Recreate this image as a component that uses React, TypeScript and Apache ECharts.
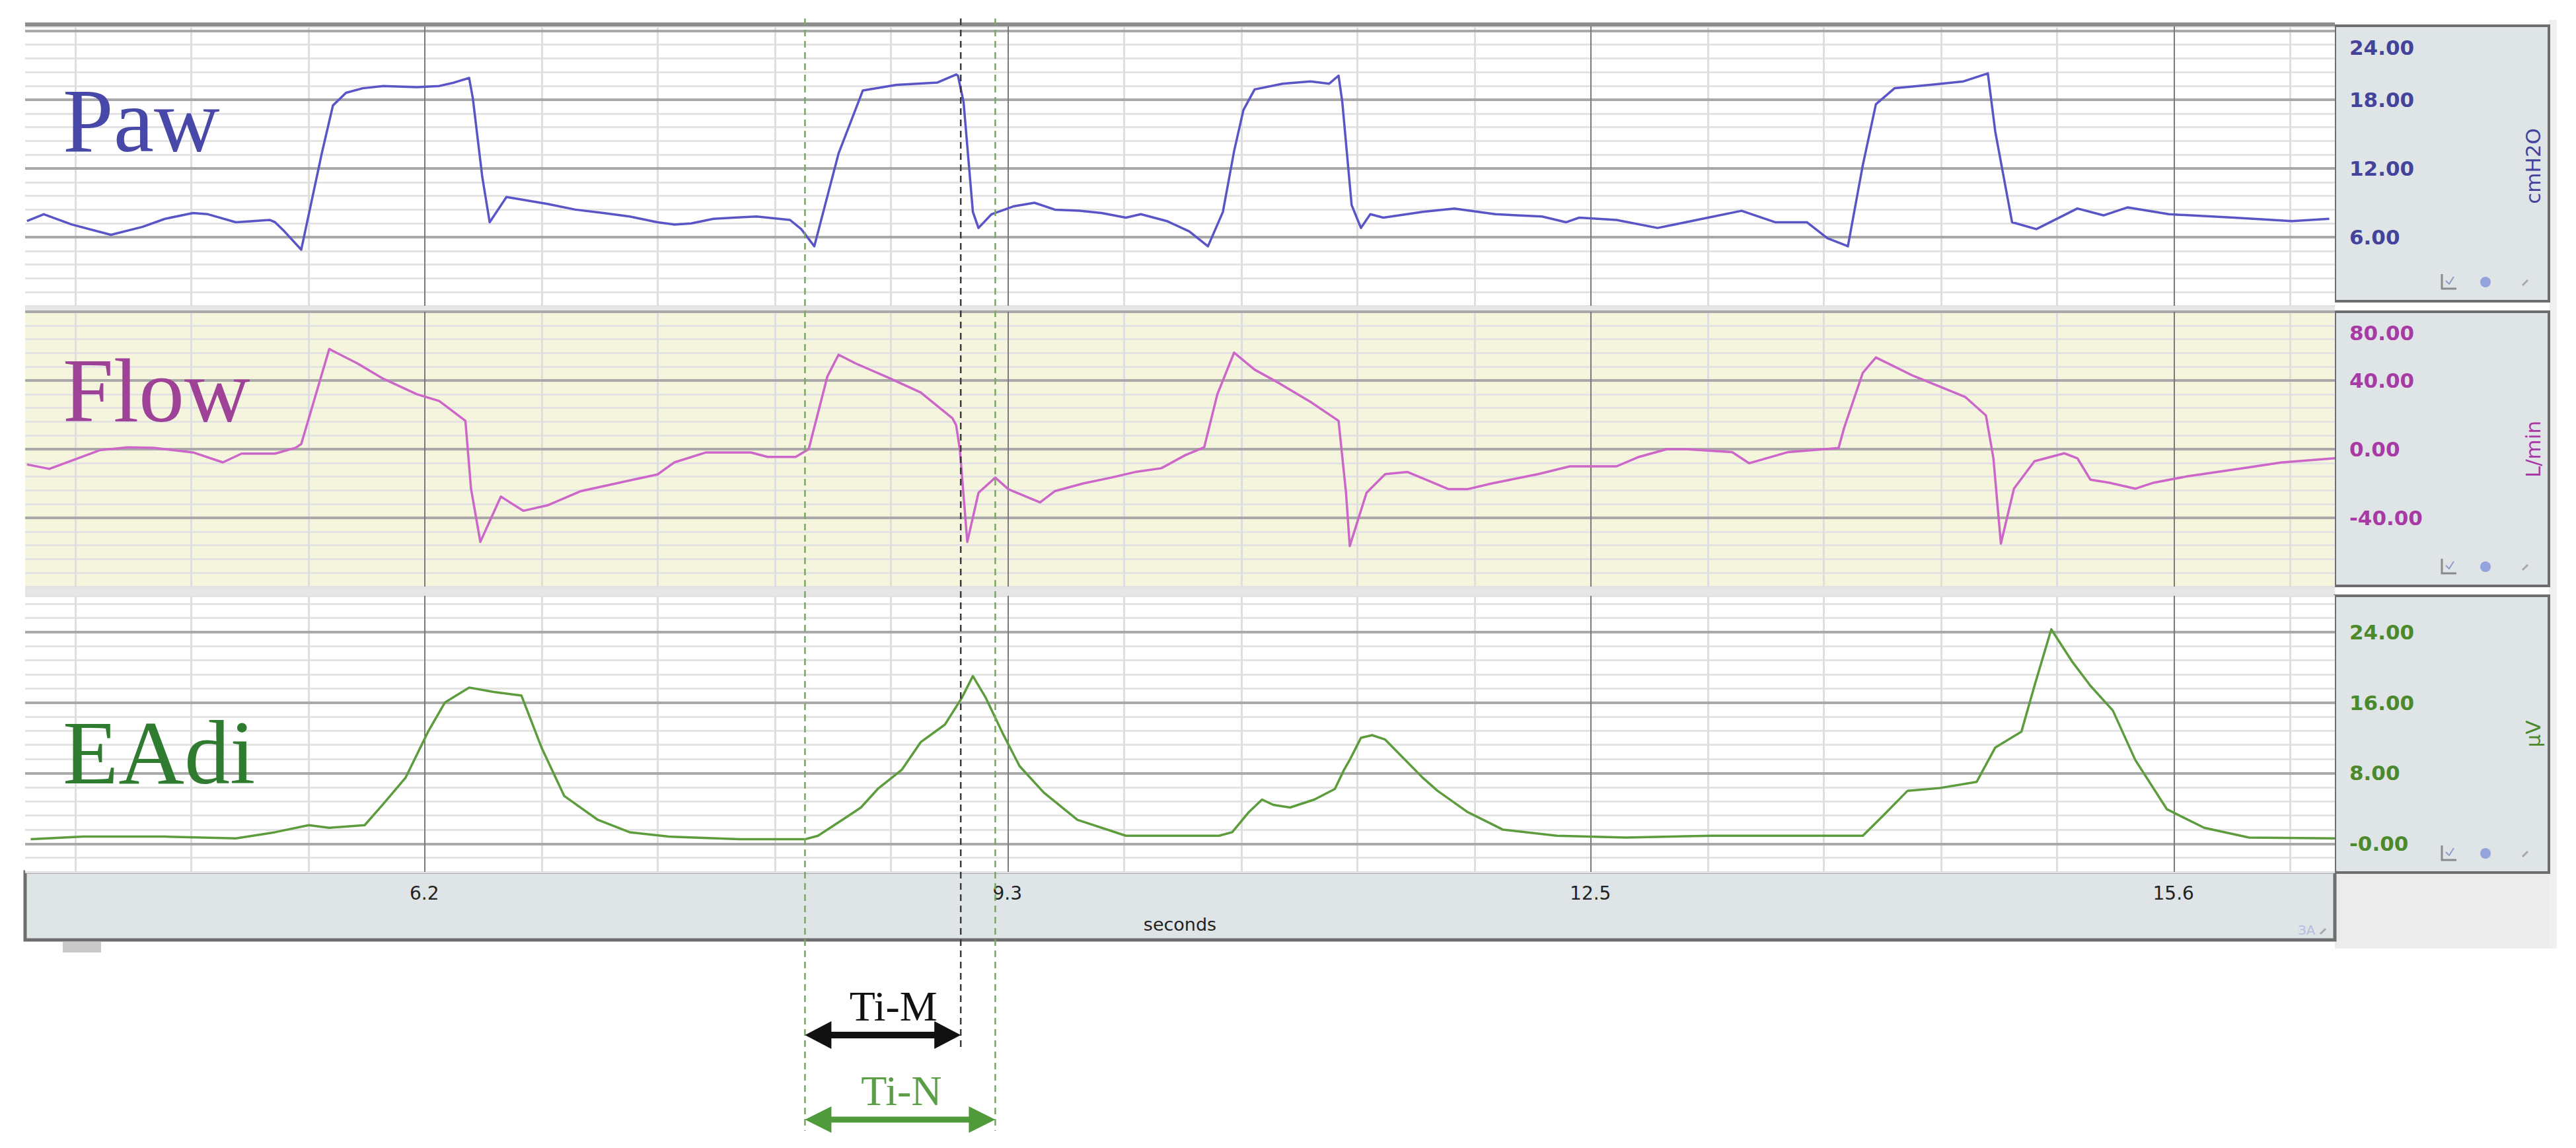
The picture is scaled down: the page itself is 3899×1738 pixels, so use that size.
import React, { useEffect, useRef } from 'react';
import * as echarts from 'echarts';

// ---------- data (seconds, value) ----------
const PAW_T = [4.12, 4.21, 4.36, 4.57, 4.74, 4.86, 5.01, 5.09, 5.24, 5.42, 5.45, 5.50, 5.59, 5.70, 5.76, 5.83, 5.92, 6.03, 6.21, 6.33, 6.41, 6.49, 6.51, 6.56, 6.60, 6.69, 6.80, 6.91, 7.06, 7.21, 7.35, 7.50, 7.59, 7.68, 7.80, 7.91, 8.03, 8.21, 8.27, 8.34, 8.47, 8.60, 8.78, 9.00, 9.10, 9.11, 9.14, 9.19, 9.22, 9.29, 9.41, 9.52, 9.63, 9.76, 9.88, 10.01, 10.09, 10.23, 10.35, 10.45, 10.53, 10.59, 10.64, 10.70, 10.85, 11.00, 11.10, 11.15, 11.17, 11.22, 11.27, 11.32, 11.39, 11.60, 11.77, 11.99, 12.24, 12.37, 12.44, 12.64, 12.86, 13.01, 13.13, 13.31, 13.49, 13.66, 13.77, 13.88, 13.96, 14.03, 14.13, 14.32, 14.50, 14.63, 14.67, 14.76, 14.89, 15.11, 15.25, 15.38, 15.60, 15.95, 16.26, 16.46];
const PAW_V = [7.4, 8.0, 7.1, 6.2, 6.9, 7.6, 8.1, 8.0, 7.3, 7.5, 7.3, 6.5, 4.9, 13.3, 17.5, 18.6, 19.0, 19.2, 19.1, 19.2, 19.5, 19.9, 18.1, 11.3, 7.3, 9.5, 9.2, 8.9, 8.4, 8.1, 7.8, 7.3, 7.1, 7.2, 7.6, 7.7, 7.8, 7.5, 6.7, 5.2, 13.3, 18.8, 19.3, 19.5, 20.2, 20.1, 17.8, 8.2, 6.8, 8.0, 8.7, 9.0, 8.4, 8.3, 8.1, 7.7, 8.0, 7.4, 6.5, 5.2, 8.2, 13.5, 17.1, 18.9, 19.4, 19.6, 19.4, 20.1, 17.8, 8.8, 6.8, 8.0, 7.7, 8.2, 8.5, 8.0, 7.8, 7.3, 7.7, 7.5, 6.8, 7.3, 7.7, 8.3, 7.3, 7.3, 5.9, 5.2, 12.3, 17.6, 19.0, 19.3, 19.6, 20.3, 15.2, 7.3, 6.7, 8.5, 7.9, 8.6, 8.0, 7.7, 7.4, 7.6];

const FLOW_T = [4.12, 4.24, 4.51, 4.66, 4.80, 5.01, 5.17, 5.27, 5.45, 5.56, 5.59, 5.74, 5.89, 6.03, 6.21, 6.33, 6.47, 6.50, 6.55, 6.66, 6.78, 6.91, 7.09, 7.36, 7.50, 7.59, 7.76, 8.00, 8.09, 8.24, 8.31, 8.41, 8.47, 8.56, 8.73, 8.91, 9.08, 9.10, 9.12, 9.16, 9.22, 9.31, 9.38, 9.55, 9.63, 9.78, 9.93, 10.06, 10.20, 10.33, 10.43, 10.50, 10.59, 10.70, 10.83, 11.00, 11.12, 11.15, 11.19, 11.21, 11.30, 11.40, 11.52, 11.62, 11.74, 11.84, 11.97, 12.22, 12.39, 12.64, 12.76, 12.91, 13.01, 13.26, 13.35, 13.56, 13.83, 13.86, 13.96, 14.03, 14.23, 14.51, 14.62, 14.66, 14.70, 14.77, 14.88, 15.04, 15.11, 15.18, 15.28, 15.42, 15.52, 15.69, 16.03, 16.20, 16.49];
const FLOW_V = [-8.9, -11.5, -0.6, 1.1, 0.8, -1.9, -7.7, -2.6, -2.6, 0.8, 3.0, 58.3, 50.0, 41.0, 32.0, 28.0, 16.5, -23.0, -54.0, -27.6, -35.9, -32.7, -24.4, -18.0, -14.7, -7.7, -1.9, -1.9, -4.5, -4.5, 0.0, 42.3, 55.0, 50.0, 42.0, 33.0, 18.0, 14.0, 0.0, -54.0, -25.4, -16.6, -23.3, -31.0, -24.4, -20.0, -16.6, -13.3, -11.1, -3.4, 1.1, 31.9, 56.2, 46.3, 38.5, 27.5, 18.7, 16.5, -25.4, -56.4, -25.4, -14.5, -13.3, -17.8, -23.3, -23.3, -20.0, -14.5, -10.0, -10.0, -4.5, 0.0, 0.0, -1.7, -8.2, -1.7, 0.7, 12.5, 44.5, 53.4, 42.7, 30.3, 19.6, -5.4, -55.0, -23.0, -7.0, -2.4, -5.3, -17.8, -19.5, -23.0, -19.5, -16.0, -10.6, -7.8, -5.3];

const EADI_T = [4.14, 4.42, 4.86, 5.24, 5.45, 5.63, 5.74, 5.93, 6.03, 6.15, 6.27, 6.36, 6.49, 6.62, 6.77, 6.88, 7.00, 7.18, 7.35, 7.56, 7.94, 8.29, 8.36, 8.49, 8.59, 8.68, 8.81, 8.91, 9.04, 9.13, 9.19, 9.26, 9.35, 9.44, 9.57, 9.75, 10.01, 10.51, 10.58, 10.67, 10.74, 10.80, 10.89, 11.02, 11.13, 11.18, 11.21, 11.27, 11.33, 11.40, 11.46, 11.53, 11.60, 11.68, 11.84, 12.03, 12.32, 12.69, 13.15, 13.96, 14.07, 14.20, 14.37, 14.57, 14.67, 14.81, 14.88, 14.97, 15.08, 15.18, 15.30, 15.42, 15.59, 15.79, 16.03, 16.49];
const EADI_V = [0.5, 0.8, 0.8, 0.6, 1.3, 2.1, 1.8, 2.1, 4.5, 7.5, 12.7, 16.0, 17.7, 17.2, 16.8, 10.8, 5.4, 2.7, 1.3, 0.8, 0.5, 0.5, 0.9, 2.7, 4.1, 6.2, 8.4, 11.5, 13.5, 16.5, 19.0, 16.5, 12.5, 8.8, 5.8, 2.7, 0.9, 0.9, 1.3, 3.6, 5.0, 4.4, 4.1, 5.0, 6.2, 8.4, 9.5, 12.0, 12.3, 11.8, 10.5, 9.0, 7.5, 6.0, 3.6, 1.6, 0.9, 0.7, 0.9, 0.9, 3.2, 6.0, 6.3, 7.0, 10.9, 12.7, 17.9, 24.3, 20.7, 17.9, 15.1, 9.5, 3.9, 1.8, 0.7, 0.6];

// ---------- axes / ticks ----------
const X_MIN = 4.11;
const X_MAX = 16.49;
const X_LABEL_TICKS = [6.25, 9.375, 12.5, 15.625];
const X_MINOR_STEP = 0.625;

const PAW_LABELS = [6, 12, 18, 24];
const FLOW_LABELS = [-40, 0, 40, 80];
const EADI_LABELS = [0, 8, 16, 24];

// Ti markers (seconds)
const TI_START = 8.29;
const TI_M_END = 9.125;
const TI_N_END = 9.31;

// ---------- layout ----------
const W = 3899;
const H = 1738;
const PLOT_L = 38;
const PLOT_R = 3534;
const BOX_R = 3858;

const PANELS = [
  { name: 'cmH2O', title: 'Paw', top: 40, bottom: 463, min: 0, max: 24.4, minor: 1.2, labels: PAW_LABELS, shifted: 24 as number | null, shift: 50,
    color: '#5a55c6', labelColor: '#43439c', titleColor: '#4848a8', bg: '#ffffff', boxTop: 39, boxBottom: 456, titleBase: 228,
    t: PAW_T, v: PAW_V },
  { name: 'L/min', title: 'Flow', top: 472, bottom: 888, min: -80, max: 80, minor: 8, labels: FLOW_LABELS, shifted: 80 as number | null, shift: 64,
    color: '#cc66c8', labelColor: '#a83aa6', titleColor: '#9e4298', bg: '#f4f5dc', boxTop: 472, boxBottom: 887, titleBase: 637,
    t: FLOW_T, v: FLOW_V },
  { name: 'µV', title: 'EAdi', top: 902, bottom: 1320, min: -3.2, max: 28.1, minor: 1.6, labels: EADI_LABELS, shifted: null as number | null, shift: 0,
    color: '#5c9c3c', labelColor: '#4b8a2c', titleColor: '#2f7b2f', bg: '#ffffff', boxTop: 902, boxBottom: 1321, titleBase: 1185,
    t: EADI_T, v: EADI_V },
];

const isOn = (v: number, list: number[]) => list.some((l) => Math.abs(l - v) < 1e-6);

function buildOption() {
  const verticalMinor: number[] = [];
  for (let k = Math.ceil(X_MIN / X_MINOR_STEP); k * X_MINOR_STEP <= X_MAX; k++) {
    const t = k * X_MINOR_STEP;
    if (!isOn(t, X_LABEL_TICKS)) verticalMinor.push(t);
  }

  const grids: any[] = [];
  const xAxes: any[] = [];
  const yAxes: any[] = [];
  const series: any[] = [];

  PANELS.forEach((p, i) => {
    grids.push({
      left: PLOT_L,
      width: PLOT_R - PLOT_L,
      top: p.top,
      height: p.bottom - p.top,
      show: true,
      backgroundColor: p.bg,
      borderWidth: 0,
      containLabel: false,
      outerBoundsMode: 'none',
    });
    const isLast = i === PANELS.length - 1;
    xAxes.push({
      type: 'value',
      gridIndex: i,
      min: X_MIN,
      max: X_MAX,
      axisLine: { show: false },
      axisTick: { show: false },
      splitLine: { show: false },
      axisLabel: isLast
        ? {
            show: true,
            customValues: X_LABEL_TICKS,
            formatter: (v: number) => (Math.floor(v * 10 + 1e-9) / 10).toFixed(1),
            color: '#222222',
            fontSize: 28,
            fontFamily: 'DejaVu Sans',
            margin: 18,
          }
        : { show: false },
      name: isLast ? 'seconds' : '',
      nameLocation: 'middle',
      nameGap: 66,
      nameTextStyle: { color: '#222222', fontSize: 27, fontFamily: 'DejaVu Sans' },
    });
    const labelStyle = { color: p.labelColor, fontSize: 31, fontWeight: 'bold', fontFamily: 'DejaVu Sans' };
    yAxes.push({
      type: 'value',
      gridIndex: i,
      position: 'right',
      min: p.min,
      max: p.max,
      interval: p.minor,
      axisLine: { show: false },
      axisTick: { show: false },
      splitLine: { show: true, lineStyle: { color: '#e3e3e3', width: 3 } },
      axisLabel: {
        show: true,
        margin: 22,
        ...labelStyle,
        showMinLabel: false,
        showMaxLabel: p.shifted === p.max,
        formatter: (v: number) => {
          if (!isOn(v, p.labels)) return '';
          const s = Math.abs(v) < 1e-9 && i === 2 ? '-0.00' : v.toFixed(2);
          if (p.shifted !== null && Math.abs(v - p.shifted) < 1e-6) return `{top|${s}}`;
          return s;
        },
        rich: { top: { ...labelStyle, padding: [p.shift, 0, 0, 0] } },
      },
      name: p.name,
      nameLocation: 'middle',
      nameGap: 284,
      nameRotate: 90,
      nameTextStyle: { color: p.labelColor, fontSize: 31, fontFamily: 'DejaVu Sans' },
    });
    const gridLines: any[] = [
      ...verticalMinor.map((t) => ({ xAxis: t, lineStyle: { color: '#dedede', width: 3, type: 'solid' } })),
      ...p.labels.map((v) => ({ yAxis: v, lineStyle: { color: '#a9a9a9', width: 4, type: 'solid' } })),
      ...X_LABEL_TICKS.map((t) => ({ xAxis: t, lineStyle: { color: '#7a7a7a', width: 2, type: 'solid' } })),
    ];
    series.push({
      type: 'line',
      xAxisIndex: i,
      yAxisIndex: i,
      data: p.t.map((t, k) => [t, p.v[k]]),
      showSymbol: false,
      symbol: 'none',
      silent: true,
      z: 10,
      lineStyle: { color: p.color, width: 3.5, join: 'round' },
      markLine: {
        silent: true,
        z: 1,
        symbol: ['none', 'none'],
        label: { show: false },
        emphasis: { disabled: true },
        animation: false,
        data: gridLines,
      },
    });
  });

  return {
    animation: false,
    backgroundColor: '#ffffff',
    grid: grids,
    xAxis: xAxes,
    yAxis: yAxes,
    series,
  };
}

function arrow(x1: number, x2: number, y: number, head: number, half: number, shaft: number, color: string) {
  return [
    { type: 'rect', z: 30, shape: { x: x1 + head - 2, y: y - shaft, width: x2 - x1 - 2 * head + 4, height: shaft * 2 }, style: { fill: color } },
    { type: 'polygon', z: 30, shape: { points: [[x1, y], [x1 + head, y - half], [x1 + head, y + half]] }, style: { fill: color } },
    { type: 'polygon', z: 30, shape: { points: [[x2, y], [x2 - head, y - half], [x2 - head, y + half]] }, style: { fill: color } },
  ];
}

function buildGraphic(px: (t: number) => number) {
  const els: any[] = [];
  // panel area backing (separator bands)
  els.push({ type: 'rect', z: -10, shape: { x: PLOT_L, y: 34, width: PLOT_R - PLOT_L, height: 1290 }, style: { fill: '#e6e6e6' } });
  // right gray window area
  els.push({ type: 'rect', z: -10, shape: { x: PLOT_R, y: 1320, width: BOX_R - PLOT_R + 12, height: 116 }, style: { fill: '#ececec' } });
  els.push({ type: 'rect', z: -10, shape: { x: BOX_R, y: 30, width: 12, height: 1406 }, style: { fill: '#f0f0f0' } });
  // top border
  els.push({ type: 'line', z: 5, shape: { x1: PLOT_L, y1: 37, x2: PLOT_R, y2: 37 }, style: { stroke: '#8c8c8c', lineWidth: 6 } });

  // right axis boxes + icons + panel titles
  PANELS.forEach((p) => {
    els.push({
      type: 'rect', z: -5,
      shape: { x: PLOT_R, y: p.boxTop, width: BOX_R - PLOT_R, height: p.boxBottom - p.boxTop },
      style: { fill: '#dfe4e7', stroke: '#6e6e6e', lineWidth: 4 },
    });
    const yc = p.boxBottom - 29;
    els.push({ type: 'polyline', z: 6, shape: { points: [[3696, yc - 12], [3696, yc + 10], [3718, yc + 10]] }, style: { stroke: '#8a8a8a', lineWidth: 3, fill: null } });
    els.push({ type: 'polyline', z: 6, shape: { points: [[3702, yc - 2], [3707, yc + 3], [3714, yc - 8]] }, style: { stroke: '#8e9cc8', lineWidth: 2, fill: null } });
    els.push({ type: 'circle', z: 6, shape: { cx: 3762, cy: yc, r: 8 }, style: { fill: '#95a3dc' } });
    els.push({ type: 'line', z: 6, shape: { x1: 3818, y1: yc + 5, x2: 3826, y2: yc - 3 }, style: { stroke: '#a6a6a6', lineWidth: 3 } });

    els.push({
      type: 'text', z: 20, x: 95, y: p.titleBase - 46,
      style: { text: p.title, font: "138px 'Liberation Serif'", fill: p.titleColor, textAlign: 'left', align: 'left', textVerticalAlign: 'middle', verticalAlign: 'middle' },
    });
  });

  // x-axis bar
  els.push({ type: 'rect', z: -5, shape: { x: PLOT_L, y: 1320, width: PLOT_R - PLOT_L, height: 103 }, style: { fill: '#dfe4e7', stroke: '#6e6e6e', lineWidth: 5 } });
  els.push({ type: 'rect', z: -4, shape: { x: 95, y: 1426, width: 58, height: 16 }, style: { fill: '#c9c9c9' } });
  els.push({ type: 'text', z: 6, x: 3478, y: 1408, style: { text: 'ЗA', font: "20px 'DejaVu Sans'", fill: '#b6bee0', textAlign: 'left', align: 'left', textVerticalAlign: 'middle', verticalAlign: 'middle' } });
  els.push({ type: 'line', z: 6, shape: { x1: 3512, y1: 1414, x2: 3520, y2: 1406 }, style: { stroke: '#a6a6a6', lineWidth: 3 } });

  // Ti markers
  const xs = px(TI_START);
  const xm = px(TI_M_END);
  const xn = px(TI_N_END);
  els.push({ type: 'line', z: 25, shape: { x1: xs, y1: 28, x2: xs, y2: 1712 }, style: { stroke: '#72ad58', lineWidth: 2.5, lineDash: [10, 7] } });
  els.push({ type: 'line', z: 25, shape: { x1: xm, y1: 28, x2: xm, y2: 1585 }, style: { stroke: '#3a3a3a', lineWidth: 2.5, lineDash: [10, 7] } });
  els.push({ type: 'line', z: 25, shape: { x1: xn, y1: 28, x2: xn, y2: 1712 }, style: { stroke: '#72ad58', lineWidth: 2.5, lineDash: [10, 7] } });

  els.push(...arrow(xs, xm, 1567, 40, 21, 5, '#111111'));
  els.push(...arrow(xs, xn, 1695, 40, 20, 4.5, '#4f9a3a'));
  els.push({
    type: 'text', z: 31, x: (xs + xm) / 2 + 16, y: 1523,
    style: { text: 'Ti-M', font: "64px 'Liberation Serif'", fill: '#111111', textAlign: 'center', align: 'center', textVerticalAlign: 'middle', verticalAlign: 'middle' },
  });
  els.push({
    type: 'text', z: 31, x: (xs + xn) / 2 + 2, y: 1651,
    style: { text: 'Ti-N', font: "64px 'Liberation Serif'", fill: '#5a9e45', textAlign: 'center', align: 'center', textVerticalAlign: 'middle', verticalAlign: 'middle' },
  });
  return els;
}

export default function App() {
  const ref = useRef<HTMLDivElement>(null);
  useEffect(() => {
    if (!ref.current) return;
    const chart = echarts.init(ref.current, null, { renderer: 'svg', width: W, height: H });
    chart.setOption(buildOption() as any);
    const px = (t: number) => chart.convertToPixel({ xAxisIndex: 0 }, t) as unknown as number;
    chart.setOption({ graphic: { elements: buildGraphic(px) } } as any);
    return () => chart.dispose();
  }, []);
  return (
    <div
      ref={ref}
      style={{ position: 'fixed', left: 0, top: 0, width: W, height: H, background: '#ffffff' }}
    />
  );
}
